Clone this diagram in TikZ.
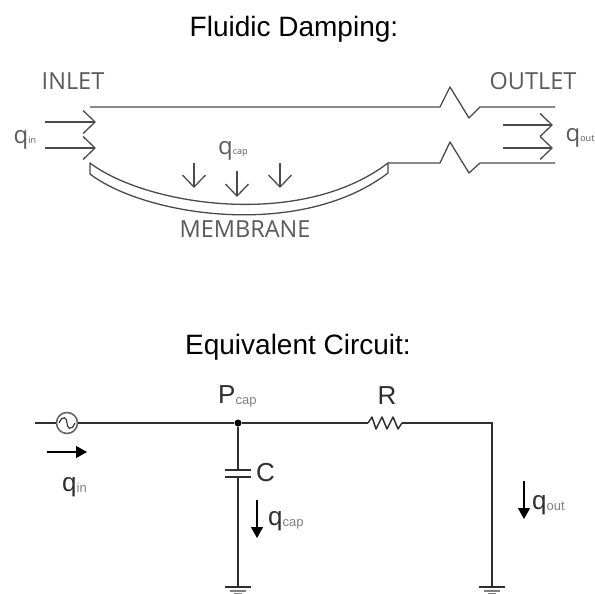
\documentclass[tikz,border=0pt]{standalone}
\usepackage{xcolor}
\usepackage{fontspec}
\setmainfont{Liberation Sans}
\newfontfamily\cadfont{Open Sans}
\usetikzlibrary{
  arrows.meta,
  positioning,
  calc
}
\definecolor{cadline}{HTML}{4A4A4A}
\definecolor{cadtext}{HTML}{5A5A5A}
\definecolor{wirecolor}{HTML}{2E2E2E}
\newcommand{\fsize}[1]{\fontsize{#1}{#1}\selectfont}
\newcommand{\cadsub}[1]{{\fsize{24}q}\raisebox{0pt}{\fsize{9}#1}}
\newcommand{\wiresub}[1]{{\fsize{26}q}{\fsize{13}\color{gray}\raisebox{-1pt}{#1}}}

\begin{document}
\begin{tikzpicture}[
  x=1pt, y=-1pt,
  title/.style={font=\fsize{28}, text=black, inner sep=0pt},
  cadlbl/.style={font=\cadfont\fsize{23.5}, text=cadtext, inner sep=0pt},
  cadq/.style={font=\cadfont, text=cadtext, inner sep=0pt},
  wirelbl/.style={font=\fsize{26}, text=wirecolor, inner sep=0pt},
  duct/.style={draw=cadline, line width=1.3pt, line join=round},
  flowarrow/.style={draw=cadline, line width=1.3pt, -{Straight Barb[length=12pt, width=23pt, line width=1.3pt]}},
  wire/.style={draw=wirecolor, line width=1.5pt},
  current/.style={draw=black, line width=1.2pt, -{Triangle[length=11pt, width=12pt]}},
  pt/.style={coordinate},
  dot/.style={circle, fill=black, inner sep=0pt, minimum size=7pt},
]
  \useasboundingbox (0,0) rectangle (595,594);

  % Titles
  \node[title] (fluidic) at (294,29) {Fluidic Damping:};
  \node[title] (equiv) at (298,347) {Equivalent Circuit:};

  % Channel walls
  \node[pt] (topa) at (90,107) {};
  \node[pt] (topb) at (555,107) {};
  \node[pt] (lowa) at (388,163) {};
  \node[pt] (lowb) at (555,163) {};
  \draw[duct] (topa) -- (440,107) -- (450,87) -- (469,118) -- (480,107) -- (topb);
  \draw[duct] (lowa) -- (440,163) -- (450,142) -- (469,173) -- (480,163) -- (lowb);

  % Membrane
  \node[pt] (mema) at (90,163) {};
  \node[pt] (memb) at (90,174) {};
  \node[pt] (memc) at (388,163) {};
  \node[pt] (memd) at (388,173) {};
  \draw[duct] (mema) .. controls (145,205) and (300,230) .. (memc) -- (memd)
    .. controls (300,240) and (145,216) .. (memb) -- cycle;

  % Flow arrows
  \foreach \name/\xa/\ya/\xb/\yb in {ina/45/122/96/122, inb/45/148/96/148,
      capa/194/163/194/188, capb/237/171/237/197, capc/280/163/280/188,
      outa/503/125/553/125, outb/503/148/553/148} {
    \node[pt] (\name s) at (\xa,\ya) {};
    \node[pt] (\name e) at (\xb,\yb) {};
    \draw[flowarrow] (\name s) -- (\name e);
  }

  % Channel labels
  \node[cadlbl] (inlet) at (73,81) {INLET};
  \node[cadlbl] (outlet) at (533,81) {OUTLET};
  \node[cadlbl] (membrane) at (245,229) {MEMBRANE};
  \node[cadq] (qin) at (25,140) {\cadsub{in}};
  \node[cadq] (qcap) at (233,151) {\cadsub{cap}};
  \node[cadq] (qout) at (580,138) {\cadsub{out}};

  % Circuit
  \node[pt] (lead) at (35,423) {};
  \node[circle, draw=gray!80!black, line width=1.6pt, minimum size=21pt, inner sep=0pt] (src) at (67,423) {};
  \node[dot] (pcap) at (238,423) {};
  \node[pt] (ra) at (368,423) {};
  \node[pt] (rb) at (402,423) {};
  \node[pt] (corner) at (492,423) {};
  \node[pt] (capt) at (238,470) {};
  \node[pt] (capl) at (238,477) {};
  \node[pt] (gnda) at (238,587) {};
  \node[pt] (gndb) at (492,587) {};
  \draw[wire] (lead) -- (src);
  \draw[wire] (src) -- (pcap) -- (ra);
  \draw[wire, line join=round] (ra) -- (372,417) -- (376,429) -- (382,417) -- (387,429) -- (393,417) -- (398,429) -- (rb);
  \draw[wire] (rb) -- (corner) -- (gndb);
  \draw[wire] (pcap) -- (capt);
  \draw[wire] (capl) -- (gnda);
  \draw[wire] (225,470) -- (251,470);
  \draw[wire] (225,477) -- (251,477);
  \draw[wire, line width=1.1pt] ($(src.center)+(-8,0)$) .. controls ($(src.center)+(-4,-9)$) and ($(src.center)+(0,-5)$) .. (src.center)
    .. controls ($(src.center)+(0,5)$) and ($(src.center)+(4,9)$) .. ($(src.center)+(8,0)$);

  % Grounds
  \foreach \g in {gnda,gndb} {
    \draw[wire] ($(\g)+(-13,0)$) -- ($(\g)+(13,0)$);
    \draw[wire, draw=gray] ($(\g)+(-8,4)$) -- ($(\g)+(8,4)$);
    \draw[wire, draw=gray] ($(\g)+(-4,7)$) -- ($(\g)+(4,7)$);
  }

  % Currents
  \node[pt] (isa) at (47,452) {};
  \node[pt] (ise) at (87,452) {};
  \node[pt] (csa) at (257,500) {};
  \node[pt] (cse) at (257,538) {};
  \node[pt] (osa) at (524,481) {};
  \node[pt] (ose) at (524,519) {};
  \draw[current] (isa) -- (ise);
  \draw[current] (csa) -- (cse);
  \draw[current] (osa) -- (ose);

  % Circuit labels
  \node[wirelbl, anchor=west] (plbl) at (218,396) {P{\fsize{13}\color{gray}\raisebox{-1pt}{cap}}};
  \node[wirelbl] (rlbl) at (387,396) {R};
  \node[wirelbl, anchor=west] (clbl) at (256,473) {C};
  \node[wirelbl, anchor=west] (qinl) at (62,487) {\wiresub{in}};
  \node[wirelbl, anchor=west] (qcapl) at (268,521) {\wiresub{cap}};
  \node[wirelbl, anchor=west] (qoutl) at (532,505) {\wiresub{out}};
\end{tikzpicture}
\end{document}
